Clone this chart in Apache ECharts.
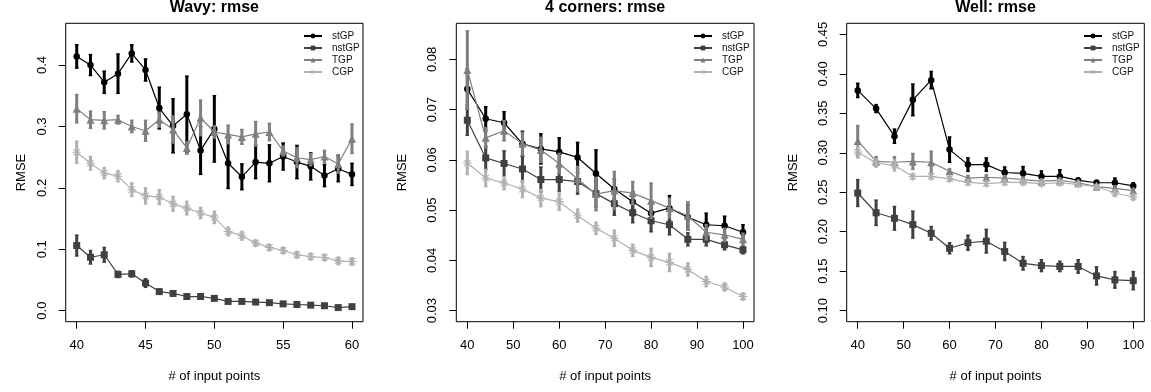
<!DOCTYPE html>
<html>
<head>
<meta charset="utf-8">
<script src="https://cdn.jsdelivr.net/npm/echarts@6/dist/echarts.min.js"></script>
<style>
html,body{margin:0;padding:0;background:#fff;}
#chart{width:1151px;height:392px;}
</style>
</head>
<body>
<div id="chart"></div>
<script>
// ---------------- DATA ----------------
const seriesNames = ['stGP', 'nstGP', 'TGP', 'CGP'];
const titles = ['Wavy: rmse', '4 corners: rmse', 'Well: rmse'];

// Panel 1: Wavy
const wavyX = [40,41,42,43,44,45,46,47,48,49,50,51,52,53,54,55,56,57,58,59,60];
const wavyStGP = [0.414,0.400,0.372,0.386,0.419,0.392,0.330,0.301,0.320,0.261,0.296,0.240,0.218,0.242,0.240,0.251,0.242,0.235,0.220,0.231,0.222];
const wavyStGPErr = [0.019,0.017,0.018,0.032,0.014,0.018,0.034,0.044,0.062,0.039,0.054,0.041,0.021,0.027,0.030,0.022,0.027,0.022,0.018,0.021,0.018];
const wavyNstGP = [0.106,0.087,0.091,0.059,0.060,0.045,0.031,0.028,0.023,0.023,0.020,0.015,0.015,0.014,0.013,0.011,0.010,0.009,0.008,0.005,0.0065];
const wavyNstGPErr = [0.017,0.011,0.012,0.005,0.005,0.007,0.003,0.003,0.002,0.002,0.002,0.002,0.002,0.002,0.002,0.002,0.002,0.002,0.002,0.002,0.002];
const wavyTGP = [0.329,0.311,0.310,0.311,0.300,0.293,0.311,0.295,0.265,0.314,0.291,0.287,0.283,0.288,0.291,0.260,0.249,0.246,0.251,0.239,0.280];
const wavyTGPErr = [0.023,0.014,0.014,0.007,0.010,0.017,0.012,0.022,0.010,0.029,0.010,0.015,0.012,0.020,0.014,0.008,0.016,0.010,0.010,0.015,0.024];
const wavyCGP = [0.258,0.240,0.224,0.219,0.197,0.187,0.185,0.174,0.167,0.159,0.152,0.129,0.122,0.110,0.103,0.098,0.091,0.088,0.0865,0.081,0.080];
const wavyCGPErr = [0.018,0.011,0.009,0.009,0.011,0.013,0.012,0.012,0.011,0.009,0.010,0.007,0.007,0.005,0.005,0.005,0.005,0.005,0.005,0.006,0.006];

// Panel 2: 4 corners
const cornersX = [40,44,48,52,56,60,64,68,72,76,80,84,88,92,96,100];
const cornersStGP = [0.0741,0.0682,0.0674,0.0632,0.0622,0.0616,0.0605,0.0573,0.0542,0.0517,0.0494,0.0504,0.0486,0.0471,0.0469,0.0456];
const cornersStGPErr = [0.004,0.0024,0.0022,0.0025,0.003,0.0028,0.003,0.0047,0.002,0.002,0.002,0.0025,0.0025,0.0023,0.0019,0.0015];
const cornersNstGP = [0.0679,0.0604,0.0593,0.0582,0.0561,0.0561,0.0557,0.0533,0.0513,0.0495,0.0479,0.0471,0.0442,0.0442,0.0431,0.0421];
const cornersNstGPErr = [0.003,0.0023,0.0025,0.0025,0.0025,0.0023,0.0025,0.0027,0.0023,0.002,0.0022,0.002,0.0013,0.0013,0.001,0.0008];
const cornersTGP = [0.0779,0.0644,0.0658,0.0632,0.0620,0.0593,0.0562,0.0532,0.0539,0.0534,0.0519,0.0504,0.0489,0.0456,0.0451,0.0442];
const cornersTGPErr = [0.0078,0.002,0.002,0.0023,0.0025,0.002,0.0025,0.0033,0.0038,0.0023,0.0035,0.002,0.0028,0.0015,0.0013,0.0012];
const cornersCGP = [0.0594,0.0564,0.0554,0.0542,0.0524,0.0517,0.0489,0.0464,0.0444,0.0420,0.0406,0.0396,0.0382,0.0358,0.0347,0.0328];
const cornersCGPErr = [0.0023,0.0017,0.0013,0.0017,0.0017,0.0017,0.0013,0.0012,0.0016,0.0012,0.0018,0.0018,0.0013,0.001,0.0008,0.0007];

// Panel 3: Well
const wellX = [40,44,48,52,56,60,64,68,72,76,80,84,88,92,96,100];
const wellStGP = [0.379,0.356,0.321,0.367,0.392,0.304,0.285,0.285,0.275,0.274,0.270,0.270,0.265,0.262,0.262,0.258];
const wellStGPErr = [0.009,0.005,0.009,0.020,0.011,0.016,0.0085,0.0085,0.007,0.0085,0.007,0.0085,0.003,0.003,0.006,0.004];
const wellNstGP = [0.249,0.224,0.217,0.209,0.198,0.179,0.186,0.188,0.175,0.160,0.157,0.156,0.156,0.144,0.139,0.138];
const wellNstGPErr = [0.017,0.016,0.015,0.017,0.0085,0.007,0.0095,0.015,0.0115,0.0085,0.0075,0.0065,0.0085,0.0115,0.0105,0.0115];
const wellTGP = [0.315,0.289,0.288,0.289,0.288,0.2765,0.268,0.269,0.268,0.266,0.264,0.265,0.262,0.257,0.255,0.252];
const wellTGPErr = [0.0195,0.006,0.007,0.010,0.014,0.003,0.003,0.003,0.003,0.003,0.003,0.003,0.003,0.003,0.003,0.003];
const wellCGP = [0.301,0.287,0.284,0.270,0.270,0.267,0.2625,0.261,0.2625,0.2625,0.261,0.262,0.260,0.257,0.249,0.244];
const wellCGPErr = [0.0075,0.005,0.007,0.003,0.003,0.003,0.003,0.003,0.003,0.003,0.003,0.003,0.003,0.003,0.004,0.004];

// Tick labels
const wavyXTicks = [40,45,50,55,60];
const wavyYTicks = [0.0,0.1,0.2,0.3,0.4];
const cornersXTicks = [40,50,60,70,80,90,100];
const cornersYTicks = [0.03,0.04,0.05,0.06,0.07,0.08];
const wellXTicks = [40,50,60,70,80,90,100];
const wellYTicks = [0.10,0.15,0.20,0.25,0.30,0.35,0.40,0.45];

// ---------------- STYLE ----------------
const FONT = "'Liberation Sans', Arial, Helvetica, sans-serif";
const colors = ['#000000', '#404040', '#7f7f7f', '#b0b0b0'];
const ASTERISK = 'path://M8.8 0L11.2 0L11.2 20L8.8 20Z M0 8.8L20 8.8L20 11.2L0 11.2Z M3.78 2.08L17.92 16.22L16.22 17.92L2.08 3.78Z M16.22 2.08L17.92 3.78L3.78 17.92L2.08 16.22Z';
const symbols = ['circle', 'rect', 'triangle', ASTERISK];
const symbolSizes = [6.5, 7, 8, 9];

const panels = [
  { x: wavyX, ys: [wavyStGP, wavyNstGP, wavyTGP, wavyCGP], errs: [wavyStGPErr, wavyNstGPErr, wavyTGPErr, wavyCGPErr],
    xTicks: wavyXTicks, yTicks: wavyYTicks, xMin: 39.2, xMax: 60.8, yMin: -0.018, yMax: 0.468, yDec: 1,
    grid: { left: 65.7, top: 23.3, width: 297.3, height: 298.4 }, nameGap: 37.5, legendLeft: 303 },
  { x: cornersX, ys: [cornersStGP, cornersNstGP, cornersTGP, cornersCGP], errs: [cornersStGPErr, cornersNstGPErr, cornersTGPErr, cornersCGPErr],
    xTicks: cornersXTicks, yTicks: cornersYTicks, xMin: 37.6, xMax: 102.4, yMin: 0.0278, yMax: 0.0872, yDec: 2,
    grid: { left: 456.3, top: 23.3, width: 297.7, height: 298.4 }, nameGap: 47.5, legendLeft: 693 },
  { x: wellX, ys: [wellStGP, wellNstGP, wellTGP, wellCGP], errs: [wellStGPErr, wellNstGPErr, wellTGPErr, wellCGPErr],
    xTicks: wellXTicks, yTicks: wellYTicks, xMin: 37.6, xMax: 102.4, yMin: 0.086, yMax: 0.464, yDec: 2,
    grid: { left: 846.7, top: 23.3, width: 297.6, height: 298.4 }, nameGap: 47, legendLeft: 1083 }
];

const grids = [], xAxes = [], yAxes = [], series = [], titleArr = [], legends = [];

panels.forEach((p, pi) => {
  grids.push(Object.assign({ show: true, borderColor: '#000', borderWidth: 1, backgroundColor: 'transparent' }, p.grid));
  titleArr.push({
    text: titles[pi], left: p.grid.left + p.grid.width / 2, top: 0, textAlign: 'center', padding: 0,
    textStyle: { fontFamily: FONT, fontSize: 16, fontWeight: 'bold', color: '#000' }
  });
  xAxes.push({
    type: 'value', gridIndex: pi, min: p.xMin, max: p.xMax, position: 'bottom',
    name: '# of input points', nameLocation: 'middle', nameGap: 48,
    nameTextStyle: { fontFamily: FONT, fontSize: 13, color: '#000' },
    axisLine: { show: false, onZero: false }, splitLine: { show: false },
    axisTick: { show: true, inside: false, length: 7, customValues: p.xTicks, lineStyle: { color: '#000', width: 1 } },
    axisLabel: { customValues: p.xTicks, margin: 17, fontFamily: FONT, fontSize: 13, color: '#000', formatter: v => String(Math.round(v)) }
  });
  yAxes.push({
    type: 'value', gridIndex: pi, min: p.yMin, max: p.yMax, position: 'left',
    name: 'RMSE', nameLocation: 'middle', nameGap: p.nameGap, nameRotate: 90,
    nameTextStyle: { fontFamily: FONT, fontSize: 13, color: '#000' },
    axisLine: { show: false, onZero: false }, splitLine: { show: false },
    axisTick: { show: true, inside: false, length: 7, customValues: p.yTicks, lineStyle: { color: '#000', width: 1 } },
    axisLabel: { customValues: p.yTicks, rotate: 90, margin: 17, fontFamily: FONT, fontSize: 13, color: '#000', formatter: v => v.toFixed(p.yDec) }
  });
  legends.push({
    data: seriesNames, orient: 'vertical', left: p.legendLeft, top: 30, padding: 0,
    itemWidth: 18, itemHeight: 6, itemGap: 0, selectedMode: false,
    textStyle: { fontFamily: FONT, fontSize: 10, lineHeight: 12, color: '#111', padding: [0, 0, 0, 5] }
  });
  seriesNames.forEach((name, si) => {
    const col = colors[si];
    const barData = p.x.map((xv, i) => [xv, p.ys[si][i] - p.errs[si][i], p.ys[si][i] + p.errs[si][i]]);
    series.push({
      type: 'custom', name: name + ' error', xAxisIndex: pi, yAxisIndex: pi, z: 2 + si * 2, silent: true,
      data: barData,
      renderItem: (params, api) => {
        const a = api.coord([api.value(0), api.value(1)]);
        const b = api.coord([api.value(0), api.value(2)]);
        return {
          type: 'group',
          children: [
            { type: 'line', shape: { x1: a[0], y1: a[1], x2: b[0], y2: b[1] }, style: { stroke: col, lineWidth: 3 } },
            { type: 'line', shape: { x1: a[0] - 1.8, y1: a[1], x2: a[0] + 1.8, y2: a[1] }, style: { stroke: col, lineWidth: 1.5 } },
            { type: 'line', shape: { x1: b[0] - 1.8, y1: b[1], x2: b[0] + 1.8, y2: b[1] }, style: { stroke: col, lineWidth: 1.5 } }
          ]
        };
      }
    });
    series.push({
      type: 'line', name: name, xAxisIndex: pi, yAxisIndex: pi, z: 3 + si * 2,
      data: p.x.map((xv, i) => [xv, p.ys[si][i]]),
      symbol: symbols[si], symbolSize: symbolSizes[si], showSymbol: true,
      lineStyle: { color: col, width: 1.2 }, itemStyle: { color: col, borderWidth: 0 },
      animation: false, silent: true
    });
  });
});

const chart = echarts.init(document.getElementById('chart'), null, { renderer: 'canvas' });
chart.setOption({
  backgroundColor: '#ffffff',
  animation: false,
  title: titleArr,
  legend: legends,
  grid: grids,
  xAxis: xAxes,
  yAxis: yAxes,
  series: series
});
</script>
</body>
</html>
